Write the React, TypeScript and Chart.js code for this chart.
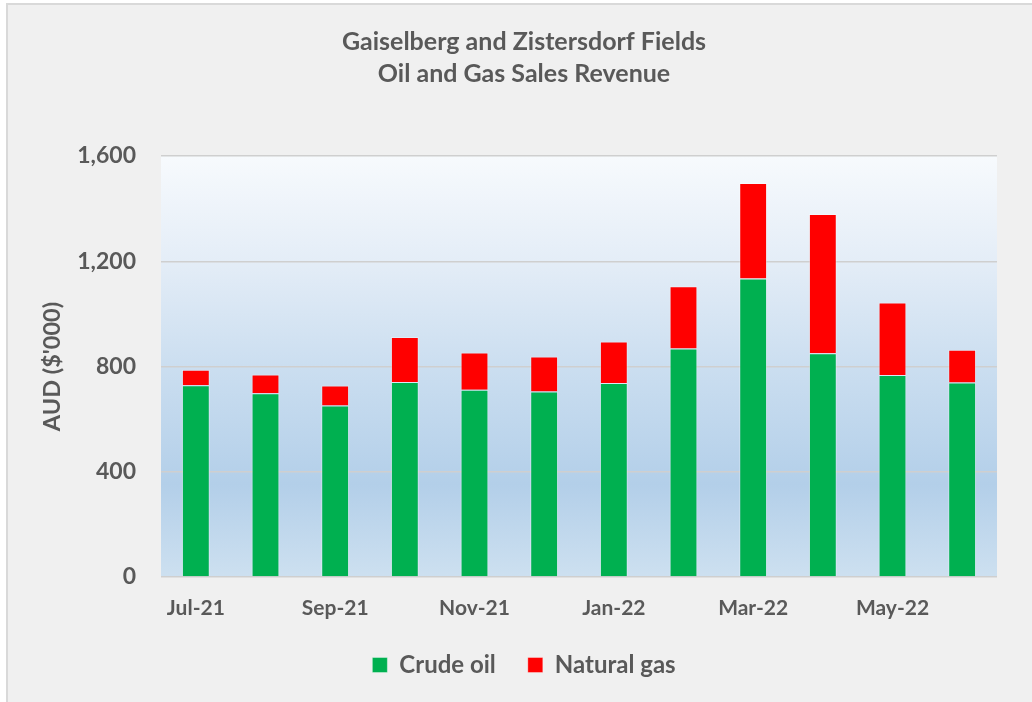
import React, { useEffect, useRef } from "react";
import { Chart, registerables } from "chart.js";

Chart.register(...registerables);

const months = ["Jul-21", "Aug-21", "Sep-21", "Oct-21", "Nov-21", "Dec-21", "Jan-22", "Feb-22", "Mar-22", "Apr-22", "May-22", "Jun-22"];
const crudeOil = [729, 698, 652, 741, 712, 705, 737, 868, 1134, 850, 768, 739];
const naturalGas = [59, 72, 76, 171, 141, 133, 158, 237, 363, 530, 275, 125];
const yTicks = [0, 400, 800, 1200, 1600];
const titleLines = ["Gaiselberg and Zistersdorf Fields", "Oil and Gas Sales Revenue"];

const FONT = "Lato, 'Open Sans', sans-serif";
const TEXT = "#595959";

const plotBg = {
  id: "plotBg",
  beforeDraw(chart: any) {
    const { ctx, chartArea } = chart;
    if (!chartArea) return;
    const { left, top, right, bottom } = chartArea;
    const g = ctx.createLinearGradient(0, top, 0, bottom);
    g.addColorStop(0, "#f7fafd");
    g.addColorStop(0.25, "#e4edf7");
    g.addColorStop(0.5, "#cbdef0");
    g.addColorStop(0.78, "#b3cfe9");
    g.addColorStop(1, "#cde0f0");
    ctx.save();
    ctx.fillStyle = g;
    ctx.fillRect(left, top, right - left, bottom - top);
    ctx.restore();
  },
};

export default function App() {
  const ref = useRef<HTMLCanvasElement | null>(null);

  useEffect(() => {
    if (!ref.current) return;
    const chart = new Chart(ref.current, {
      type: "bar",
      data: {
        labels: months,
        datasets: [
          {
            label: "Crude oil",
            data: crudeOil,
            backgroundColor: "#00B050",
            borderColor: "rgba(255,255,255,0.35)",
            borderWidth: 1,
          },
          {
            label: "Natural gas",
            data: naturalGas,
            backgroundColor: "#FF0000",
            borderColor: "rgba(255,255,255,0.35)",
            borderWidth: 1,
          },
        ],
      },
      options: {
        responsive: false,
        animation: false,
        layout: { padding: { left: 0, right: 0, top: 0, bottom: 15 } },
        datasets: { bar: { categoryPercentage: 1, barPercentage: 0.4 } } as any,
        plugins: {
          title: {
            display: true,
            text: titleLines,
            color: TEXT,
            font: { family: FONT, size: 25, weight: "bold", lineHeight: 1.28 },
            padding: { top: 21, bottom: 66 },
          },
          legend: {
            position: "bottom",
            labels: {
              color: TEXT,
              font: { family: FONT, size: 24, weight: "bold" },
              boxWidth: 15,
              boxHeight: 15,
              padding: 32,
            },
          },
          tooltip: { enabled: false },
        },
        scales: {
          x: {
            stacked: true,
            grid: { display: false, drawTicks: false },
            border: { display: false },
            ticks: {
              autoSkip: false,
              maxRotation: 0,
              color: TEXT,
              font: { family: FONT, size: 21, weight: "bold" },
              padding: 19,
              callback: (_v: any, i: number) => (i % 2 === 0 ? months[i] : ""),
            },
            afterFit: (s: any) => {
              s.height = 44;
            },
          },
          y: {
            stacked: true,
            min: 0,
            max: 1600,
            afterBuildTicks: (s: any) => {
              s.ticks = yTicks.map((v) => ({ value: v }));
            },
            grid: { color: "#cfcfcf", lineWidth: 1.5, drawTicks: false },
            border: { display: false },
            ticks: {
              color: TEXT,
              font: { family: FONT, size: 23, weight: "bold" },
              padding: 25,
              callback: (v: any) => Number(v).toLocaleString("en-US"),
            },
            title: {
              display: true,
              text: "AUD ($'000)",
              color: TEXT,
              font: { family: FONT, size: 23.5, weight: "bold" },
              padding: { top: 30, bottom: 0 },
            },
            afterFit: (s: any) => {
              s.width = 153;
            },
          },
          spacer: {
            type: "linear",
            position: "right",
            display: true,
            grid: { display: false, drawTicks: false },
            border: { display: false },
            ticks: { display: false },
            afterFit: (s: any) => {
              s.width = 43;
            },
          },
        },
      },
      plugins: [plotBg],
    });
    return () => chart.destroy();
  }, []);

  return (
    <div
      style={{
        position: "fixed",
        left: 6,
        top: 3,
        width: 1026,
        height: 699,
        background: "#f0f0f0",
        borderTop: "2px solid #d9d9d9",
        borderLeft: "2px solid #d9d9d9",
        boxSizing: "border-box",
        overflow: "hidden",
      }}
    >
      <canvas ref={ref} width={1032} height={697} style={{ display: "block" }} />
    </div>
  );
}
